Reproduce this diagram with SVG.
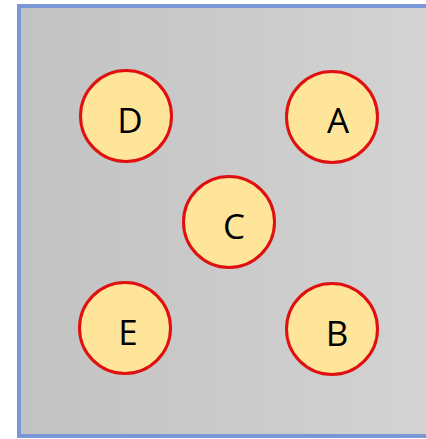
<svg xmlns="http://www.w3.org/2000/svg" width="426" height="439" viewBox="0 0 426 439">
<defs>
<linearGradient id="bg" x1="0" y1="0" x2="1" y2="0">
<stop offset="0" stop-color="#c2c2c2"/>
<stop offset="1" stop-color="#d3d3d3"/>
</linearGradient>
</defs>
<style>
.n circle{fill:#ffe59a;stroke:#e01010;stroke-width:3}
.n text{font-family:"Open Sans","Noto Sans",sans-serif;font-size:35px;fill:#000;text-anchor:middle}
</style>
<rect width="426" height="439" fill="#fff"/>
<rect x="19" y="6" width="412" height="430" fill="url(#bg)" stroke="#7b98d6" stroke-width="4"/>
<g id="connectors"/>
<g id="D" class="n"><circle cx="126" cy="116" r="45.5"/><text x="130" y="133">D</text></g>
<g id="A" class="n"><circle cx="332" cy="117" r="45.5"/><text x="338" y="133">A</text></g>
<g id="C" class="n"><circle cx="229" cy="222" r="45.5"/><text x="234" y="239">C</text></g>
<g id="E" class="n"><circle cx="125" cy="328" r="45.5"/><text x="128" y="345">E</text></g>
<g id="B" class="n"><circle cx="332" cy="329" r="45.5"/><text x="337" y="346">B</text></g>
</svg>
